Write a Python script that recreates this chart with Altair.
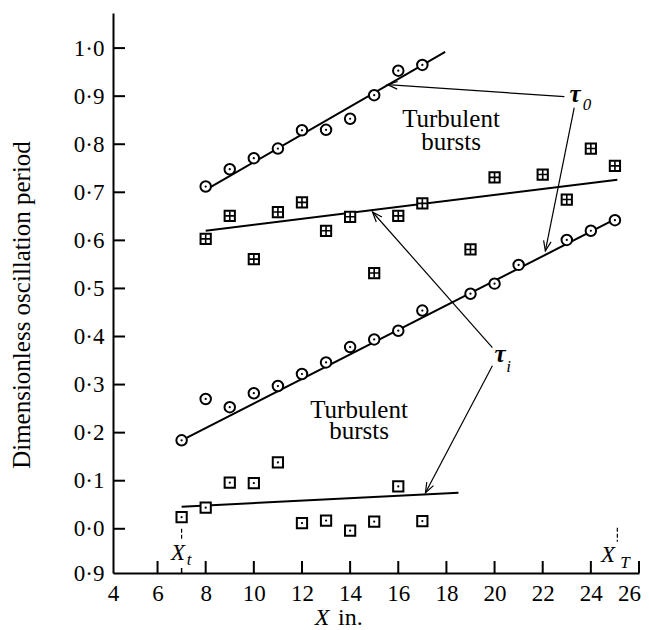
import math
import altair as alt
import pandas as pd

# ---------------- data ----------------
# upper circles (tau_0, laminar part)
X_CIRC_UP = [8, 9, 10, 11, 12, 13, 14, 15, 16, 17]
Y_CIRC_UP = [0.712, 0.748, 0.771, 0.791, 0.829, 0.830, 0.853, 0.902, 0.953, 0.965]
# squares with a cross (turbulent bursts, upper)
X_SQ_PLUS = [8, 9, 10, 11, 12, 13, 14, 15, 16, 17, 19, 20, 22, 23, 24, 25]
Y_SQ_PLUS = [0.603, 0.651, 0.561, 0.659, 0.679, 0.620, 0.649, 0.532, 0.651,
             0.677, 0.581, 0.731, 0.737, 0.685, 0.791, 0.755]
# lower circles (tau_i)
X_CIRC_LOW = [7, 8, 9, 10, 11, 12, 13, 14, 15, 16, 17, 19, 20, 21, 23, 24, 25]
Y_CIRC_LOW = [0.184, 0.270, 0.253, 0.282, 0.297, 0.322, 0.346, 0.378, 0.394,
              0.412, 0.454, 0.489, 0.510, 0.549, 0.601, 0.620, 0.642]
# squares with a dot (turbulent bursts, lower)
X_SQ_DOT = [7, 8, 9, 10, 11, 12, 13, 14, 15, 16, 17]
Y_SQ_DOT = [0.024, 0.044, 0.096, 0.095, 0.138, 0.012, 0.017, -0.004, 0.015, 0.088, 0.016]

# fitted straight lines (end points)
FIT_X = [[8.0, 17.95], [8.0, 25.1], [7.0, 25.05], [7.0, 18.5]]
FIT_Y = [[0.705, 0.992], [0.620, 0.726], [0.184, 0.645], [0.046, 0.075]]

# arrows: start -> end
ARROW_X0 = [22.90, 23.31, 19.91, 19.91]
ARROW_Y0 = [0.899, 0.876, 0.377, 0.339]
ARROW_X1 = [15.55, 22.11, 14.93, 17.13]
ARROW_Y1 = [0.924, 0.578, 0.659, 0.075]

# labels
BURST_TEXT = ["Turbulent", "bursts", "Turbulent", "bursts"]
BURST_X = [18.19, 18.19, 14.37, 14.37]
BURST_Y = [0.836, 0.789, 0.231, 0.187]
TAU_TEXT = ["τ", "τ"]
TAU_X = [23.34, 20.23]
TAU_Y = [0.888, 0.347]
TAU_SUB_TEXT = ["0", "i"]
TAU_SUB_X = [23.84, 20.58]
TAU_SUB_Y = [0.872, 0.327]
XMARK_TEXT = ["X", "X"]
XMARK_X = [6.85, 24.71]
XMARK_Y = [-0.0645, -0.069]
XMARK_SUB_TEXT = ["t", "T"]
XMARK_SUB_X = [7.31, 25.42]
XMARK_SUB_Y = [-0.075, -0.081]
XMARK_TICK_X = [7.0, 25.1]
XMARK_TICK_Y0 = [0.0, 0.002]
XMARK_TICK_Y1 = [-0.023, -0.027]

Y_TITLE = "Dimensionless oscillation period"
X_TITLE_VAR = "X"
X_TITLE_UNIT = "in."
X_TITLE_VAR_X = [12.83]
X_TITLE_UNIT_X = [13.50]

X_DOMAIN = [4.15, 26]
Y_DOMAIN = [-0.092, 1.073]
X_TICKS = [4.15, 6, 8, 10, 12, 14, 16, 18, 20, 22, 24, 26]
X_INNER_TICKS = [6, 8, 10, 12, 14, 16, 18, 20, 22, 24, 26]
Y_TICKS = [-0.092, 0.0, 0.1, 0.2, 0.3, 0.4, 0.5, 0.6, 0.7, 0.8, 0.9, 1.0]
Y_INNER_TICKS = [0.0, 0.1, 0.2, 0.3, 0.4, 0.5, 0.6, 0.7, 0.8, 0.9, 1.0]

# ---------------- layout / style ----------------
W, H = 526, 560
SERIF = "Liberation Serif"
PX = W / (X_DOMAIN[1] - X_DOMAIN[0])
PY = H / (Y_DOMAIN[1] - Y_DOMAIN[0])

XS = alt.Scale(domain=X_DOMAIN, nice=False, zero=False)
YS = alt.Scale(domain=Y_DOMAIN, nice=False, zero=False)

XAXIS = alt.Axis(values=X_TICKS, labelExpr="format(datum.value, 'd')", title=None,
                 grid=False, ticks=False, tickSize=0, domainColor="black", domainWidth=2,
                 labelFont=SERIF, labelFontSize=23, labelColor="black", labelPadding=9,
                 labelFlush=False, labelOverlap=False,
                 labelOffset={"condition": {"test": "datum.value > 25", "value": -10}, "value": 0})
YAXIS = alt.Axis(values=Y_TICKS,
                 labelExpr="datum.value < -0.05 ? '0·9' : replace(format(datum.value, '.1f'), '.', '·')",
                 title=None, grid=False, ticks=False, tickSize=0, domainColor="black",
                 domainWidth=2, labelFont=SERIF, labelFontSize=23, labelColor="black",
                 labelPadding=9, labelFlush=False, labelOverlap=False)


def X(f):
    return alt.X(f"{f}:Q", scale=XS, axis=XAXIS)


def Y(f):
    return alt.Y(f"{f}:Q", scale=YS, axis=YAXIS)


def pts(xs, ys):
    return pd.DataFrame({"x": xs, "y": ys})


circ_up = pts(X_CIRC_UP, Y_CIRC_UP)
sq_plus = pts(X_SQ_PLUS, Y_SQ_PLUS)
circ_low = pts(X_CIRC_LOW, Y_CIRC_LOW)
sq_dot = pts(X_SQ_DOT, Y_SQ_DOT)
circles = pd.concat([circ_up, circ_low])
squares = pd.concat([sq_plus, sq_dot])
dots = pd.concat([circ_up, circ_low, sq_dot])

fit_rows = []
for gi, (xx, yy) in enumerate(zip(FIT_X, FIT_Y)):
    for a, b in zip(xx, yy):
        fit_rows.append({"x": a, "y": b, "g": gi})
fits = pd.DataFrame(fit_rows)

arrows = pd.DataFrame({"x0": ARROW_X0, "y0": ARROW_Y0, "x1": ARROW_X1, "y1": ARROW_Y1})
arrows["ang"] = [
    (math.degrees(math.atan2((b - a) * PX, (d - c) * PY)) + 360) % 360
    for a, b, c, d in zip(ARROW_X0, ARROW_X1, ARROW_Y0, ARROW_Y1)
]

ticks_x = pd.DataFrame({"x": X_INNER_TICKS})
ticks_y = pd.DataFrame({"y": Y_INNER_TICKS})

axes_layer = alt.Chart(ticks_x).mark_rule(color="black", strokeWidth=2).encode(
    x=X("x"), y=alt.value(H), y2=alt.value(H - 12))
yticks_layer = alt.Chart(ticks_y).mark_rule(color="black", strokeWidth=2).encode(
    y=Y("y"), x=alt.value(0), x2=alt.value(12))
xt_minor = alt.Chart(pd.DataFrame({"x": [XMARK_TICK_X[0]]})).mark_rule(
    color="black", strokeWidth=1.5).encode(x=X("x"), y=alt.value(H), y2=alt.value(H - 5))

fit_layer = alt.Chart(fits).mark_line(color="black", strokeWidth=2).encode(
    x=X("x"), y=Y("y"), detail="g:N")

circle_layer = alt.Chart(circles).mark_point(
    shape="circle", size=110, filled=True, fill="white", stroke="black",
    strokeWidth=2, opacity=1, fillOpacity=1).encode(x=X("x"), y=Y("y"))
square_layer = alt.Chart(squares).mark_point(
    shape="square", size=105, filled=True, fill="white", stroke="black",
    strokeWidth=2, opacity=1, fillOpacity=1).encode(x=X("x"), y=Y("y"))
plus_layer = alt.Chart(sq_plus).mark_point(
    shape="M -0.9 0 L 0.9 0 M 0 -0.9 L 0 0.9", size=105, filled=False,
    stroke="black", strokeWidth=1.6, opacity=1).encode(x=X("x"), y=Y("y"))
dot_layer = alt.Chart(dots).mark_point(
    shape="circle", size=5, filled=True, color="black", opacity=1).encode(x=X("x"), y=Y("y"))

shaft_layer = alt.Chart(arrows).mark_rule(color="black", strokeWidth=1.2).encode(
    x=X("x0"), y=Y("y0"), x2="x1:Q", y2="y1:Q")
head_layer = alt.Chart(arrows).mark_point(
    shape="M -0.38 1 L 0 0 L 0.38 1", size=400, filled=False, stroke="black",
    strokeWidth=1.2, opacity=1).encode(
    x=X("x1"), y=Y("y1"), angle=alt.Angle("ang:Q", scale=None))

xmark_ticks = alt.Chart(pd.DataFrame({"x": XMARK_TICK_X, "y0": XMARK_TICK_Y0, "y1": XMARK_TICK_Y1})).mark_rule(
    color="black", strokeWidth=1.2, strokeDash=[4, 2]).encode(x=X("x"), y=Y("y0"), y2="y1:Q")


def texts(xs, ys, labels, **kw):
    df = pd.DataFrame({"x": xs, "y": ys, "t": labels})
    return alt.Chart(df).mark_text(font=SERIF, color="black", align="center",
                                   baseline="alphabetic", **kw).encode(
        x=X("x"), y=Y("y"), text="t:N")


burst_layer = texts(BURST_X, BURST_Y, BURST_TEXT, fontSize=25)
tau_layer = texts(TAU_X, TAU_Y, TAU_TEXT, fontSize=25, fontStyle="italic", fontWeight="bold")
tau_sub_layer = texts(TAU_SUB_X, TAU_SUB_Y, TAU_SUB_TEXT, fontSize=17, fontStyle="italic")
xmark_layer = texts(XMARK_X, XMARK_Y, XMARK_TEXT, fontSize=23, fontStyle="italic")
xmark_sub_layer = texts(XMARK_SUB_X, XMARK_SUB_Y, XMARK_SUB_TEXT, fontSize=17, fontStyle="italic")

xtitle_var = alt.Chart(pd.DataFrame({"x": X_TITLE_VAR_X, "t": [X_TITLE_VAR]})).mark_text(
    font=SERIF, fontSize=24, fontStyle="italic", color="black", align="center",
    baseline="alphabetic").encode(x=X("x"), y=alt.value(H + 52), text="t:N")
xtitle_unit = alt.Chart(pd.DataFrame({"x": X_TITLE_UNIT_X, "t": [X_TITLE_UNIT]})).mark_text(
    font=SERIF, fontSize=24, color="black", align="left",
    baseline="alphabetic").encode(x=X("x"), y=alt.value(H + 52), text="t:N")
ytitle = alt.Chart(pd.DataFrame({"t": [Y_TITLE]})).mark_text(
    font=SERIF, fontSize=25, color="black", align="center", baseline="middle",
    angle=270).encode(x=alt.value(-91), y=alt.value(292), text="t:N")

chart = alt.layer(
    fit_layer, axes_layer, yticks_layer, xt_minor, xmark_ticks,
    shaft_layer, head_layer,
    circle_layer, square_layer, plus_layer, dot_layer,
    burst_layer, tau_layer, tau_sub_layer, xmark_layer, xmark_sub_layer,
    xtitle_var, xtitle_unit, ytitle,
).properties(
    width=W, height=H,
    padding={"left": 105, "top": 5, "right": 2, "bottom": 57},
    autosize=alt.AutoSizeParams(type="none"),
).configure_view(stroke=None)

chart.save("out.html", embed_options={"renderer": "svg", "actions": False})
